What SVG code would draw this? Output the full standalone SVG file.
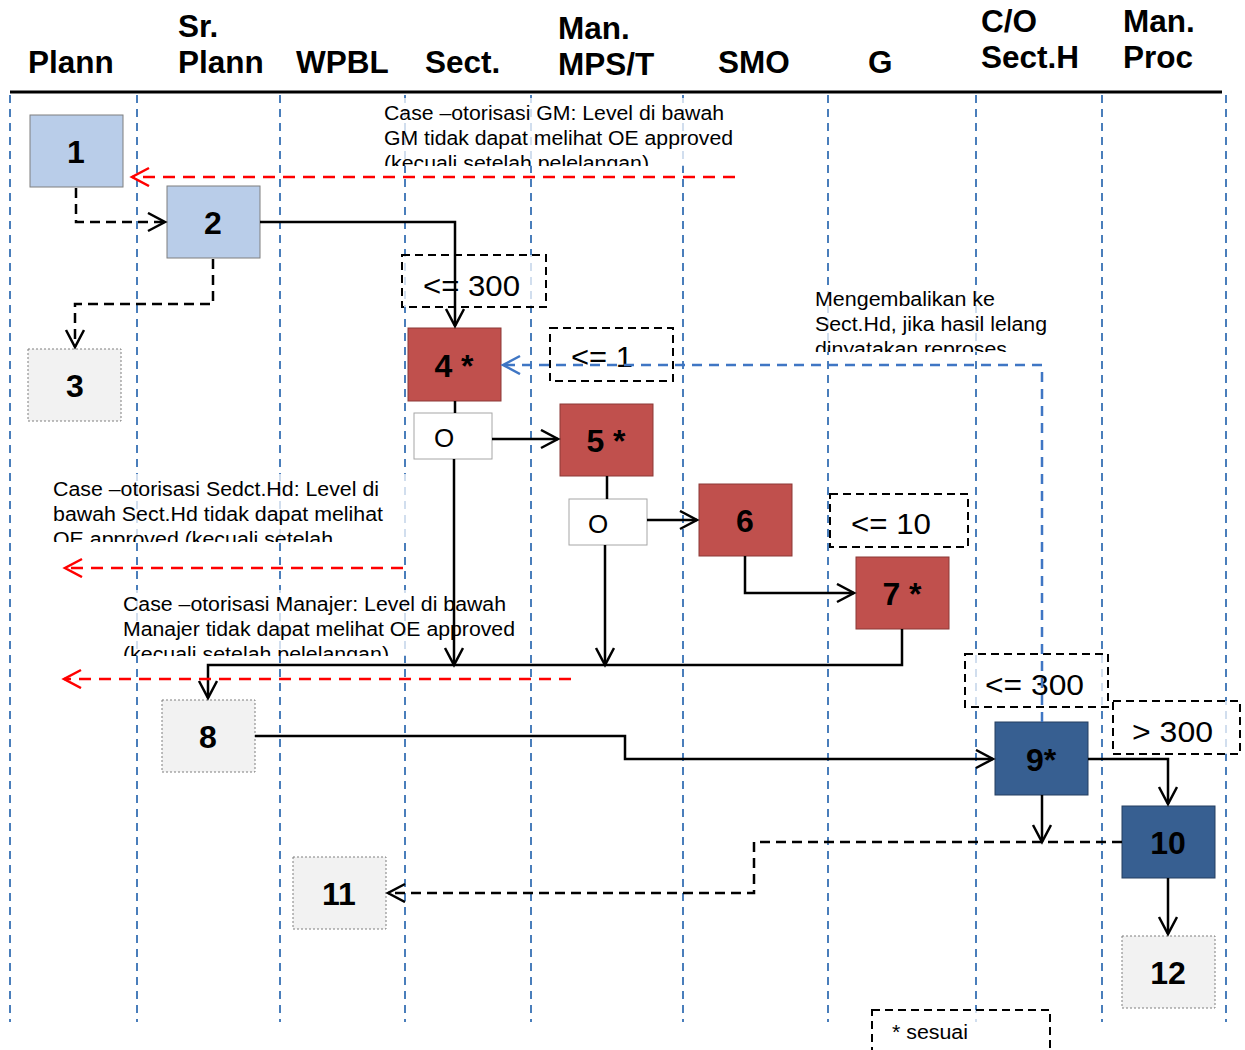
<svg xmlns="http://www.w3.org/2000/svg" width="1245" height="1050" viewBox="0 0 1245 1050">
<style>
.hdr{font-family:"Liberation Sans",Arial,sans-serif;font-weight:bold;font-size:31.5px;fill:#000}
.lane{stroke:#4a7ebb;stroke-width:2;stroke-dasharray:8 6;fill:none}
.note{font-family:"Liberation Sans",Arial,sans-serif;font-size:20px;fill:#000}
.notebg{fill:#fff;fill-opacity:0.75}
.cond{fill:#fff;fill-opacity:0.75;stroke:#000;stroke-width:2;stroke-dasharray:8 5}
.condt{font-family:"Liberation Sans",Arial,sans-serif;font-size:29px;fill:#000}
.lbl{font-family:"Liberation Sans",Arial,sans-serif;font-weight:bold;font-size:32px;fill:#000;text-anchor:middle}
.lb{fill:#b9cde9;stroke:#7f7f7f;stroke-width:1}
.red{fill:#c0504d;stroke:#8c3836;stroke-width:1}
.db{fill:#375f91;stroke:#243f60;stroke-width:1}
.gr{fill:#f2f2f2;stroke:#7f7f7f;stroke-width:1;stroke-dasharray:2 2}
.ob{fill:#fff;stroke:#a6a6a6;stroke-width:1}
.ot{font-family:"Liberation Sans",Arial,sans-serif;font-size:26px;fill:#000;text-anchor:middle}
.c{fill:none;stroke:#000;stroke-width:2.5}
.cd{fill:none;stroke:#000;stroke-width:2.5;stroke-dasharray:10 6}
.rd{fill:none;stroke:#ff0000;stroke-width:2.5;stroke-dasharray:12 8}
.bd{fill:none;stroke:#3f76c4;stroke-width:2.5;stroke-dasharray:10 7}
</style>
<defs>
<marker id="ak" markerWidth="22" markerHeight="22" refX="18" refY="10" orient="auto" markerUnits="userSpaceOnUse"><path d="M1,1 L18,10 L1,19" fill="none" stroke="#000" stroke-width="2.5"/></marker>
<marker id="ar" markerWidth="22" markerHeight="22" refX="18" refY="10" orient="auto" markerUnits="userSpaceOnUse"><path d="M1,1 L18,10 L1,19" fill="none" stroke="#ff0000" stroke-width="2.5"/></marker>
<marker id="ab" markerWidth="22" markerHeight="22" refX="18" refY="10" orient="auto" markerUnits="userSpaceOnUse"><path d="M1,1 L18,10 L1,19" fill="none" stroke="#3f76c4" stroke-width="2.5"/></marker>
<clipPath id="cGM"><rect x="378" y="96" width="370" height="70"/></clipPath>
<clipPath id="cMK"><rect x="810" y="284" width="250" height="68"/></clipPath>
<clipPath id="cSH"><rect x="48" y="472" width="360" height="70"/></clipPath>
<clipPath id="cMJ"><rect x="118" y="588" width="410" height="68"/></clipPath>
</defs>
<rect width="1245" height="1050" fill="#fff"/>
<g id="header">
<text class="hdr" x="28" y="73">Plann</text>
<text class="hdr" x="178" y="37">Sr.</text>
<text class="hdr" x="178" y="73">Plann</text>
<text class="hdr" x="296" y="73">WPBL</text>
<text class="hdr" x="425" y="73">Sect.</text>
<text class="hdr" x="558" y="39">Man.</text>
<text class="hdr" x="558" y="75">MPS/T</text>
<text class="hdr" x="718" y="73">SMO</text>
<text class="hdr" x="868" y="73">G</text>
<text class="hdr" x="981" y="32">C/O</text>
<text class="hdr" x="981" y="68">Sect.H</text>
<text class="hdr" x="1123" y="32">Man.</text>
<text class="hdr" x="1123" y="68">Proc</text>
<line x1="10" y1="92" x2="1222" y2="92" stroke="#000" stroke-width="3"/>
</g>
<g id="lanes">
<line class="lane" x1="10" y1="95" x2="10" y2="1022"/>
<line class="lane" x1="137" y1="95" x2="137" y2="1022"/>
<line class="lane" x1="280" y1="95" x2="280" y2="1022"/>
<line class="lane" x1="405" y1="95" x2="405" y2="1022"/>
<line class="lane" x1="531" y1="95" x2="531" y2="1022"/>
<line class="lane" x1="683" y1="95" x2="683" y2="1022"/>
<line class="lane" x1="828" y1="95" x2="828" y2="1022"/>
<line class="lane" x1="976" y1="95" x2="976" y2="1022"/>
<line class="lane" x1="1102" y1="95" x2="1102" y2="1022"/>
<line class="lane" x1="1226" y1="95" x2="1226" y2="1022"/>
</g>
<g id="notes">
<g id="note-gm"><rect class="notebg" x="378" y="98" width="365" height="68"/>
<g clip-path="url(#cGM)"><text class="note" x="384" y="120" textLength="340" lengthAdjust="spacingAndGlyphs">Case –otorisasi GM: Level di bawah</text><text class="note" x="384" y="145" textLength="349" lengthAdjust="spacingAndGlyphs">GM tidak dapat melihat OE approved</text><text class="note" x="384" y="170" textLength="265" lengthAdjust="spacingAndGlyphs">(kecuali setelah pelelangan)</text></g></g>
<g id="note-mk"><rect class="notebg" x="810" y="286" width="245" height="66"/>
<g clip-path="url(#cMK)"><text class="note" x="815" y="306" textLength="180" lengthAdjust="spacingAndGlyphs">Mengembalikan ke</text><text class="note" x="815" y="331" textLength="232" lengthAdjust="spacingAndGlyphs">Sect.Hd, jika hasil lelang</text><text class="note" x="815" y="356" textLength="192" lengthAdjust="spacingAndGlyphs">dinyatakan reproses</text></g></g>
<g id="note-sh"><rect class="notebg" x="48" y="474" width="360" height="68"/>
<g clip-path="url(#cSH)"><text class="note" x="53" y="496" textLength="326" lengthAdjust="spacingAndGlyphs">Case –otorisasi Sedct.Hd: Level di</text><text class="note" x="53" y="521" textLength="330" lengthAdjust="spacingAndGlyphs">bawah Sect.Hd tidak dapat melihat</text><text class="note" x="53" y="546" textLength="280" lengthAdjust="spacingAndGlyphs">OE approved (kecuali setelah</text></g></g>
<g id="note-mj"><rect class="notebg" x="118" y="590" width="410" height="66"/>
<g clip-path="url(#cMJ)"><text class="note" x="123" y="611" textLength="383" lengthAdjust="spacingAndGlyphs">Case –otorisasi Manajer: Level di bawah</text><text class="note" x="123" y="636" textLength="392" lengthAdjust="spacingAndGlyphs">Manajer tidak dapat melihat OE approved</text><text class="note" x="123" y="661" textLength="266" lengthAdjust="spacingAndGlyphs">(kecuali setelah pelelangan)</text></g></g>
</g>
<g id="conditions">
<g id="cond-300a"><rect class="cond" x="402" y="255" width="144" height="52"/><text class="condt" x="423" y="296" textLength="97" lengthAdjust="spacingAndGlyphs">&lt;= 300</text></g>
<g id="cond-1"><rect class="cond" x="550" y="328" width="123" height="53"/><text class="condt" x="571" y="367" textLength="62" lengthAdjust="spacingAndGlyphs">&lt;= 1</text></g>
<g id="cond-10"><rect class="cond" x="830" y="494" width="138" height="53"/><text class="condt" x="851" y="534" textLength="80" lengthAdjust="spacingAndGlyphs">&lt;= 10</text></g>
<g id="cond-300b"><rect class="cond" x="965" y="654" width="143" height="53"/><text class="condt" x="985" y="695" textLength="99" lengthAdjust="spacingAndGlyphs">&lt;= 300</text></g>
<g id="cond-gt300"><rect class="cond" x="1113" y="701" width="127" height="53"/><text class="condt" x="1132" y="742" textLength="81" lengthAdjust="spacingAndGlyphs">&gt; 300</text></g>
<g id="legend"><rect class="cond" x="872" y="1010" width="178" height="46"/><text class="note" x="892" y="1039" textLength="76" lengthAdjust="spacingAndGlyphs">* sesuai</text></g>
</g>
<g id="node1"><rect class="lb" x="30" y="115" width="93" height="72"/><text class="lbl" x="76" y="163">1</text></g>
<g id="node2"><rect class="lb" x="167" y="186" width="93" height="72"/><text class="lbl" x="213" y="234">2</text></g>
<g id="node3"><rect class="gr" x="28" y="349" width="93" height="72"/><text class="lbl" x="75" y="397">3</text></g>
<g id="node4"><rect class="red" x="408" y="328" width="93" height="73"/><text class="lbl" x="454" y="377">4 *</text></g>
<g id="nodeO1"><rect class="ob" x="414" y="413" width="78" height="46"/><text class="ot" x="444" y="447">O</text></g>
<g id="node5"><rect class="red" x="560" y="404" width="93" height="72"/><text class="lbl" x="606" y="452">5 *</text></g>
<g id="nodeO2"><rect class="ob" x="569" y="499" width="78" height="46"/><text class="ot" x="598" y="533">O</text></g>
<g id="node6"><rect class="red" x="699" y="484" width="93" height="72"/><text class="lbl" x="745" y="532">6</text></g>
<g id="node7"><rect class="red" x="856" y="557" width="93" height="72"/><text class="lbl" x="902" y="605">7 *</text></g>
<g id="node8"><rect class="gr" x="162" y="700" width="93" height="72"/><text class="lbl" x="208" y="748">8</text></g>
<g id="node9"><rect class="db" x="995" y="722" width="93" height="73"/><text class="lbl" x="1041" y="771">9*</text></g>
<g id="node10"><rect class="db" x="1122" y="806" width="93" height="72"/><text class="lbl" x="1168" y="854">10</text></g>
<g id="node11"><rect class="gr" x="293" y="857" width="93" height="72"/><text class="lbl" x="339" y="905">11</text></g>
<g id="node12"><rect class="gr" x="1122" y="936" width="93" height="72"/><text class="lbl" x="1168" y="984">12</text></g>
<g id="connectors">
<path class="cd" d="M76,188 V222 H165" marker-end="url(#ak)"/>
<path class="cd" d="M213,259 V304 H75 V347" marker-end="url(#ak)"/>
<path class="c" d="M260,222 H455 V326" marker-end="url(#ak)"/>
<path class="c" d="M455,401 V413"/>
<path class="c" d="M492,439 H558" marker-end="url(#ak)"/>
<path class="c" d="M454,459 V665" marker-end="url(#ak)"/>
<path class="c" d="M607,476 V499"/>
<path class="c" d="M647,520 H697" marker-end="url(#ak)"/>
<path class="c" d="M605,545 V665" marker-end="url(#ak)"/>
<path class="c" d="M745,556 V593 H854" marker-end="url(#ak)"/>
<path class="c" d="M902,629 V665 H208 V698" marker-end="url(#ak)"/>
<path class="c" d="M255,736 H625 V759 H993" marker-end="url(#ak)"/>
<path class="c" d="M1088,759 H1168 V804" marker-end="url(#ak)"/>
<path class="c" d="M1042,795 V842" marker-end="url(#ak)"/>
<path class="cd" d="M1122,842 H754 V893 H388" marker-end="url(#ak)"/>
<path class="c" d="M1168,878 V934" marker-end="url(#ak)"/>
<path class="bd" d="M1042,722 V365 H503" marker-end="url(#ab)"/>
<path class="rd" d="M735,177 H132" marker-end="url(#ar)"/>
<path class="rd" d="M403,568 H65" marker-end="url(#ar)"/>
<path class="rd" d="M571,679 H64" marker-end="url(#ar)"/>
</g>
</svg>
